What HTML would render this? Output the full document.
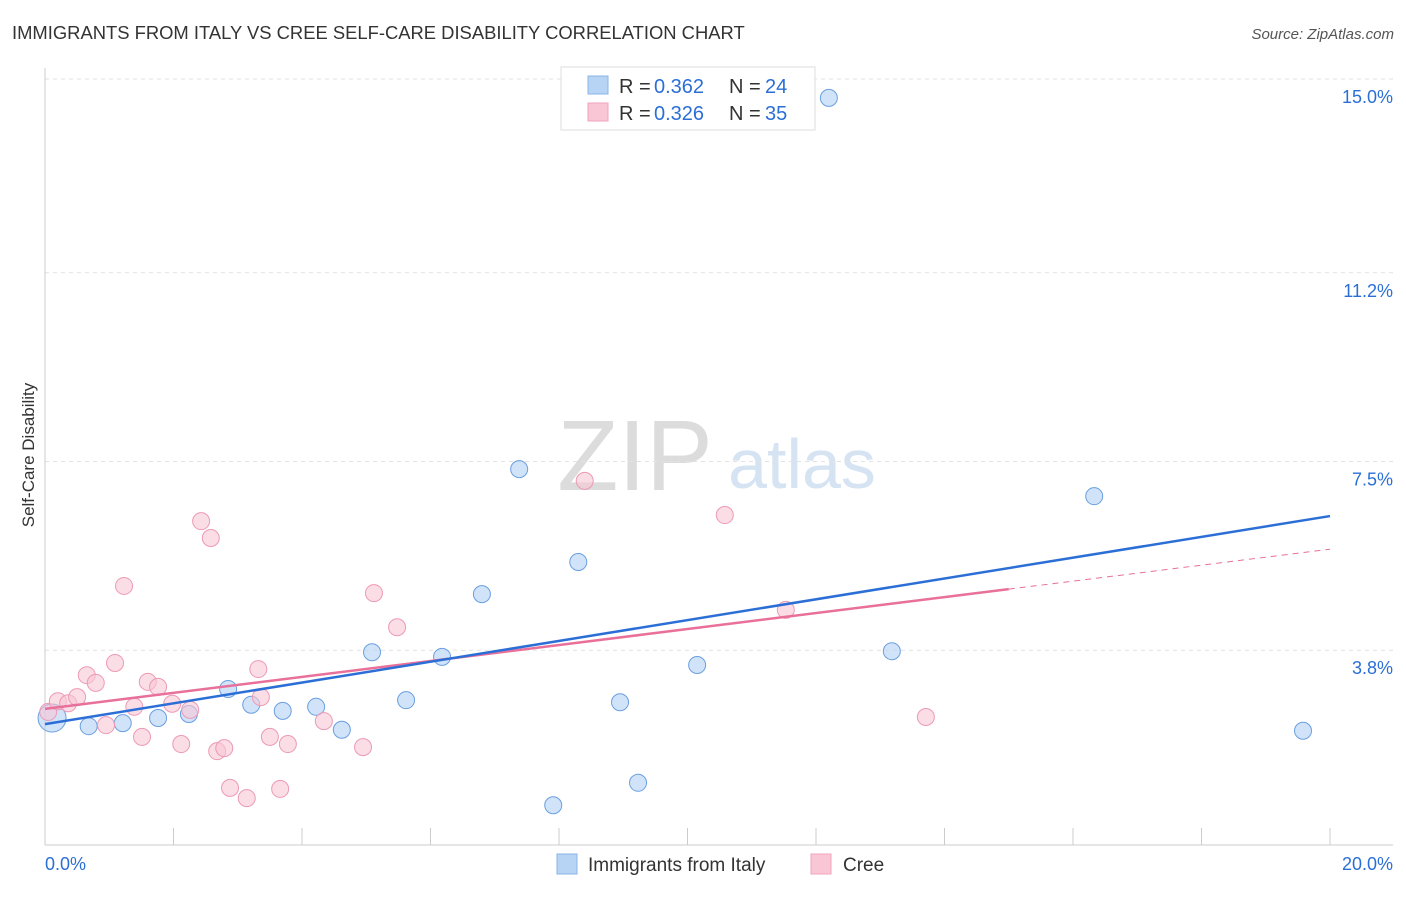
<!DOCTYPE html>
<html><head><meta charset="utf-8"><style>
body{margin:0;background:#fff;font-family:"Liberation Sans",sans-serif;}
svg text{font-family:"Liberation Sans",sans-serif;}
</style></head><body>
<svg id="c" width="1406" height="892">
<text x="12" y="39" font-size="18.4" fill="#333">IMMIGRANTS FROM ITALY VS CREE SELF-CARE DISABILITY CORRELATION CHART</text>
<text x="1394" y="39" font-size="15" fill="#555" text-anchor="end" font-style="italic">Source: ZipAtlas.com</text>
<text x="635" y="490" font-size="100" fill="#dcdcdc" text-anchor="middle" font-family="Liberation Serif">ZIP</text>
<text x="802" y="488" font-size="70" fill="#d5e3f3" text-anchor="middle">atlas</text>
<text x="34" y="455" font-size="17" fill="#333" text-anchor="middle" transform="rotate(-90 34 455)">Self-Care Disability</text>
<g id="grid"></g><g id="marks"></g>
<g>
<rect x="561" y="67" width="254" height="63" fill="#fff" stroke="#ddd"/>
<rect x="588" y="76" width="20" height="18" fill="#b8d4f5" stroke="#8ab4e6"/>
<rect x="588" y="103" width="20" height="18" fill="#f9c6d6" stroke="#efa4bc"/>
<text x="619" y="93" font-size="20" fill="#333">R =</text><text x="654" y="93" font-size="20" fill="#2b6fd6">0.362</text>
<text x="729" y="93" font-size="20" fill="#333">N =</text><text x="765" y="93" font-size="20" fill="#2b6fd6">24</text>
<text x="619" y="120" font-size="20" fill="#333">R =</text><text x="654" y="120" font-size="20" fill="#2b6fd6">0.326</text>
<text x="729" y="120" font-size="20" fill="#333">N =</text><text x="765" y="120" font-size="20" fill="#2b6fd6">35</text>
</g>
<g>
<rect x="557" y="854" width="20" height="20" fill="#b8d4f5" stroke="#8ab4e6"/>
<text x="588" y="871" font-size="19" fill="#333">Immigrants from Italy</text>
<rect x="811" y="854" width="20" height="20" fill="#f9c6d6" stroke="#efa4bc"/>
<text x="843" y="871" font-size="19" fill="#333">Cree</text>
</g>
</svg>
<script>
const yTicks=[3.8,7.5,11.2,15.0];
const yTickLabels=["3.8%","7.5%","11.2%","15.0%"];
const xTicks=[0,2,4,6,8,10,12,14,16,18,20];
const italyX=[0.11,0.68,1.21,1.76,2.24,2.85,3.21,3.70,4.22,4.62,5.09,5.62,6.18,6.80,7.38,7.91,8.30,8.95,9.23,10.15,12.20,13.18,16.33,19.58];
const italyY=[2.47,2.31,2.37,2.47,2.55,3.04,2.73,2.61,2.69,2.24,3.76,2.82,3.67,4.90,7.35,0.76,5.53,2.78,1.20,3.51,14.63,3.78,6.82,2.22];
const creeX=[0.05,0.20,0.36,0.50,0.65,0.79,0.95,1.09,1.23,1.39,1.51,1.60,1.76,1.98,2.12,2.26,2.43,2.58,2.68,2.79,2.88,3.14,3.32,3.36,3.50,3.66,3.78,4.34,4.95,5.12,5.48,8.40,10.58,11.53,13.71];
const creeY=[2.59,2.80,2.76,2.88,3.31,3.16,2.33,3.55,5.06,2.69,2.10,3.18,3.08,2.75,1.96,2.63,6.33,6.00,1.82,1.88,1.10,0.90,3.43,2.88,2.10,1.08,1.96,2.41,1.90,4.92,4.25,7.12,6.45,4.59,2.49];
const italyTrend=[2.35,6.43];
const creeTrend=[2.65,5.78];
const creeSolidEnd=15.0;
const X=v=>45+v*1285/20, Y=v=>844-v*51;
const NS="http://www.w3.org/2000/svg";
function mk(tag,attrs,parent){const e=document.createElementNS(NS,tag);for(const k in attrs)e.setAttribute(k,attrs[k]);parent.appendChild(e);return e;}
const g=document.getElementById('grid'),m=document.getElementById('marks');
yTicks.forEach((t,i)=>{
 const l=mk('line',{x1:45,x2:1393,y1:Y(t),y2:Y(t),stroke:'#e2e2e2','stroke-dasharray':'4,4'},g);
 
 
 const tx=mk('text',{x:1393,y:Y(t)+24,'font-size':18,fill:'#2b6fd6','text-anchor':'end'},g);tx.textContent=yTickLabels[i];
 
 
});
mk('line',{x1:45,x2:45,y1:68,y2:845,stroke:'#ccc'},g);
mk('line',{x1:45,x2:1393,y1:845,y2:845,stroke:'#ccc'},g);
xTicks.forEach(t=>{const l=mk('line',{x1:X(t),x2:X(t),y1:828,y2:845,stroke:'#ccc'},g);
 
 });
let a=mk('text',{x:45,y:870,'font-size':18,fill:'#2b6fd6'},g);a.textContent="0.0%";


a=mk('text',{x:1393,y:870,'font-size':18,fill:'#2b6fd6','text-anchor':'end'},g);a.textContent="20.0%";


italyX.forEach((x,i)=>{const c=mk('circle',{cx:X(x),cy:Y(italyY[i]),r:i==0?14:8.5,fill:'#b8d4f5','fill-opacity':0.65,stroke:'#6a9fe0','stroke-width':1},m);
 
 });
creeX.forEach((x,i)=>{const c=mk('circle',{cx:X(x),cy:Y(creeY[i]),r:8.5,fill:'#f9c6d6','fill-opacity':0.6,stroke:'#ec9ab5','stroke-width':1},m);
 
 });
const cAt=x=>creeTrend[0]+(creeTrend[1]-creeTrend[0])*x/20;
let l=mk('line',{x1:X(0),y1:Y(creeTrend[0]),x2:X(creeSolidEnd),y2:Y(cAt(creeSolidEnd)),stroke:'#e8709a','stroke-width':2.5},m);


l=mk('line',{x1:X(creeSolidEnd),y1:Y(cAt(creeSolidEnd)),x2:X(20),y2:Y(creeTrend[1]),stroke:'#e8709a','stroke-width':1,'stroke-dasharray':'6,5'},m);


l=mk('line',{x1:X(0),y1:Y(italyTrend[0]),x2:X(20),y2:Y(italyTrend[1]),stroke:'#2b6fd6','stroke-width':2.5},m);


</script>
</body></html>
